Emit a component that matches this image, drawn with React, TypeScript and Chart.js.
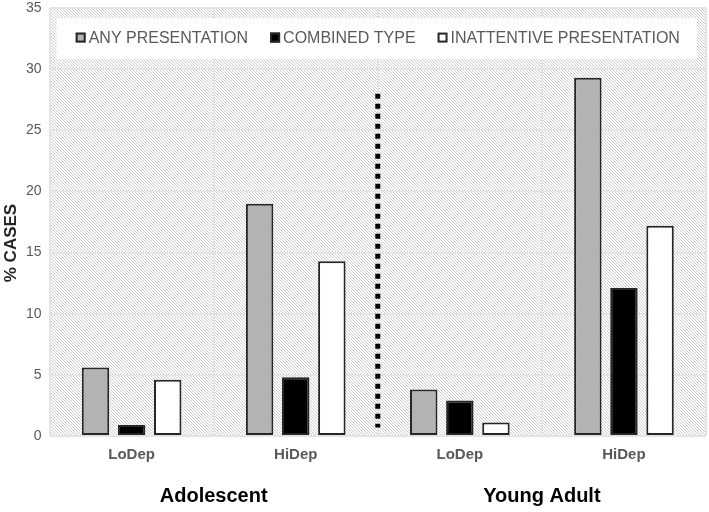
import React, { useEffect, useRef } from 'react';
import { Chart, registerables } from 'chart.js';

Chart.register(...registerables);

const categories = ['LoDep', 'HiDep', 'LoDep', 'HiDep'];
const groups = ['Adolescent', 'Young Adult'];
const seriesLabels = ['ANY PRESENTATION', 'COMBINED TYPE', 'INATTENTIVE PRESENTATION'];
const anyPresentation = [5.6, 19.0, 3.8, 29.3];
const combinedType = [0.9, 4.8, 2.9, 12.1];
const inattentivePresentation = [4.6, 14.3, 1.1, 17.2];
const yMin = 0;
const yMax = 35;
const yStep = 5;
const dividerFrom = 0.7;
const dividerTo = 28;
const yTitle = '% CASES';

const FONT = '"Liberation Sans", Arial, sans-serif';
const seriesColors = ['#b3b3b3', '#000000', '#ffffff'];
const edgeColor = '#262626';

function makePattern(): CanvasPattern | string {
  const pc = document.createElement('canvas');
  pc.width = 3;
  pc.height = 3;
  const g = pc.getContext('2d');
  if (!g) return '#e6e6e6';
  g.fillStyle = '#ffffff';
  g.fillRect(0, 0, 3, 3);
  g.fillStyle = '#cdcdcd';
  for (let i = 0; i < 3; i++) g.fillRect(i, i, 1, 1);
  const p = g.createPattern(pc, 'repeat');
  return p || '#e6e6e6';
}

export default function App() {
  const ref = useRef<HTMLCanvasElement | null>(null);

  useEffect(() => {
    document.body.style.margin = '0';
    const canvas = ref.current;
    if (!canvas) return;
    const pattern = makePattern();

    const bgPlugin = {
      id: 'hatchBg',
      beforeDraw(chart: any) {
        const { ctx, chartArea: a } = chart;
        ctx.save();
        ctx.fillStyle = '#ffffff';
        ctx.fillRect(0, 0, chart.width, chart.height);
        ctx.fillStyle = pattern;
        ctx.fillRect(a.left, a.top, a.right - a.left, a.bottom - a.top);
        ctx.restore();
      },
    };

    const legendPlugin = {
      id: 'boxLegend',
      beforeDatasetsDraw(chart: any) {
        const { ctx, chartArea: a } = chart;
        ctx.save();
        const bx = a.left + 7;
        const by = a.top + 10;
        const bw = a.right - a.left - 16;
        const bh = 41;
        ctx.fillStyle = '#ffffff';
        ctx.fillRect(bx, by, bw, bh);
        ctx.font = '16px ' + FONT;
        ctx.textBaseline = 'middle';
        const sq = 10;
        const gapIn = 3;
        const gapOut = 22;
        const widths = seriesLabels.map((t) => sq + gapIn + ctx.measureText(t).width);
        const total = widths.reduce((s, w) => s + w, 0) + gapOut * (widths.length - 1);
        let x = (a.left + a.right) / 2 - total / 2;
        const cy = by + bh / 2 - 1;
        seriesLabels.forEach((t, i) => {
          ctx.fillStyle = seriesColors[i];
          ctx.fillRect(x, cy - sq / 2, sq, sq);
          ctx.strokeStyle = edgeColor;
          ctx.lineWidth = 2;
          ctx.strokeRect(x + 1, cy - sq / 2 + 1, sq - 2, sq - 2);
          ctx.fillStyle = '#595959';
          ctx.fillText(t, x + sq + gapIn, cy + 1);
          x += widths[i] + gapOut;
        });
        ctx.restore();
      },
    };

    const dividerPlugin = {
      id: 'divider',
      afterDatasetsDraw(chart: any) {
        const { ctx } = chart;
        const xs = chart.scales.x;
        const ys = chart.scales.y;
        const x = (xs.getPixelForValue(1) + xs.getPixelForValue(2)) / 2;
        ctx.save();
        ctx.strokeStyle = '#000000';
        ctx.lineWidth = 5;
        ctx.setLineDash([5, 5]);
        ctx.beginPath();
        ctx.moveTo(x, ys.getPixelForValue(dividerTo));
        ctx.lineTo(x, ys.getPixelForValue(dividerFrom));
        ctx.stroke();
        ctx.restore();
      },
    };

    const titlePlugin = {
      id: 'yTitle',
      afterDraw(chart: any) {
        const { ctx, chartArea: a } = chart;
        ctx.save();
        ctx.translate(11, (a.top + a.bottom) / 2 + 21);
        ctx.rotate(-Math.PI / 2);
        ctx.font = 'bold 17px ' + FONT;
        ctx.fillStyle = '#262626';
        ctx.textAlign = 'center';
        ctx.textBaseline = 'middle';
        ctx.fillText(yTitle, 0, 0);
        ctx.restore();
      },
    };

    const datasetValues = [anyPresentation, combinedType, inattentivePresentation];

    const chart = new Chart(canvas, {
      type: 'bar',
      data: {
        labels: categories,
        datasets: datasetValues.map((vals, i) => ({
          label: seriesLabels[i],
          data: vals,
          backgroundColor: seriesColors[i],
          borderColor: edgeColor,
          borderWidth: 2,
          borderSkipped: false,
          categoryPercentage: 0.66,
          barPercentage: 0.76,
        })),
      },
      options: {
        responsive: false,
        animation: false,
        layout: { padding: { left: 18, right: 3, top: 0, bottom: -6 } },
        plugins: {
          legend: { display: false },
          tooltip: { enabled: false },
          title: { display: false },
        },
        scales: {
          x: {
            type: 'category',
            position: 'bottom',
            grid: { display: true, color: '#e4e4e4', lineWidth: 2, drawTicks: false, offset: true },
            border: { display: false },
            ticks: {
              color: '#595959',
              font: { family: FONT, size: 15, weight: 'bold' },
              padding: 10,
            },
          },
          x2: {
            type: 'category',
            position: 'bottom',
            labels: groups,
            grid: { display: false, drawTicks: false },
            border: { display: false },
            ticks: {
              color: '#000000',
              font: { family: FONT, size: 20, weight: 'bold', lineHeight: 1 },
              padding: 12,
            },
          },
          y: {
            min: yMin,
            max: yMax,
            grid: { color: '#e4e4e4', lineWidth: 2, drawTicks: false },
            border: { display: false },
            ticks: {
              stepSize: yStep,
              color: '#595959',
              font: { family: FONT, size: 14, lineHeight: 0.01 },
              padding: 8,
            },
          },
        },
      },
      plugins: [bgPlugin, legendPlugin, dividerPlugin, titlePlugin],
    } as any);

    return () => chart.destroy();
  }, []);

  return (
    <div style={{ width: 709, height: 512 }}>
      <canvas ref={ref} width={709} height={512} />
    </div>
  );
}
